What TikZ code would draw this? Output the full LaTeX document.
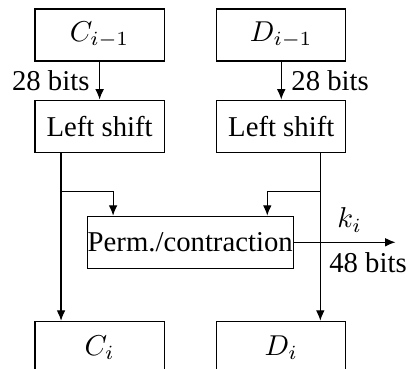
\documentclass[tikz,border=0pt]{standalone}
\usepackage{fontspec}
\setmainfont{Liberation Serif}
\usepackage{tikz}
\usetikzlibrary{arrows.meta}

\begin{document}
\begin{tikzpicture}[
    >={Latex[length=3.6pt,width=3pt]},
    block/.style={draw,minimum width=1.58cm,minimum height=0.637cm,inner sep=0pt},
    wide/.style={block,minimum width=2.52cm}]
  \useasboundingbox (0,0) rectangle (5.03,-4.51);

  \node[block] (Cprev)  at (1.219,-0.429) {$C_{i-1}$};
  \node[block] (Dprev)  at (3.442,-0.429) {$D_{i-1}$};
  \node[block] (shiftC) at (1.219,-1.544) {Left shift};
  \node[block] (shiftD) at (3.442,-1.544) {Left shift};
  \node[wide]  (perm)   at (2.328,-2.965) {Perm./contraction};
  \node[block] (Ci)     at (1.219,-4.251) {$C_i$};
  \node[block] (Di)     at (3.442,-4.251) {$D_i$};

  \coordinate (tapC)  at (0.747,-2.340);
  \coordinate (tapD)  at (3.920,-2.340);
  \coordinate (dropC) at (1.384,-2.340);
  \coordinate (dropD) at (3.271,-2.340);
  \coordinate (kout)  at (4.840,-2.965);

  \draw[->]
    (Cprev) -- (shiftC) node[midway,left] {28 bits};
  \draw[->]
    (Dprev) -- (shiftD) node[midway,right] {28 bits};

  \draw[->]
    (shiftC.south -| tapC) -- (Ci.north -| tapC);
  \draw[->]
    (shiftD.south -| tapD) -- (Di.north -| tapD);

  \draw[->]
    (tapC) -- (dropC) -- (dropC |- perm.north);
  \draw[->]
    (tapD) -- (dropD) -- (dropD |- perm.north);

  \draw[->]
    (perm.east) -- (kout)
    node[pos=0.55,above] {$k_i$}
    node[pos=0.73,below] {48 bits};
\end{tikzpicture}
\end{document}
